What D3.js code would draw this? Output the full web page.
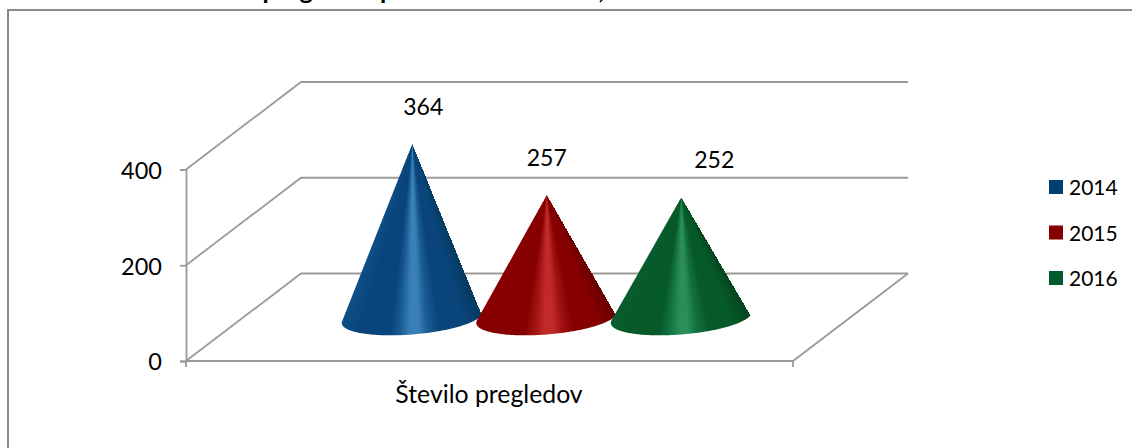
<!DOCTYPE html>
<html>
<head>
<meta charset="utf-8">
<style>
html,body{margin:0;padding:0;background:#fff;overflow:hidden}
text{font-family:Lato,"Open Sans",sans-serif;fill:#000}
</style>
<script src="https://cdn.jsdelivr.net/npm/d3@7"></script>
</head>
<body>
<svg id="c" width="1132" height="448"></svg>
<script>
const titleText = "Število pregledov po letih 2014-2016,";
const categoryLabel = "Število pregledov";
const years = ["2014", "2015", "2016"];
const values = [364, 257, 252];
const yTicks = [0, 200, 400];
const edgeColors = ["#0e5088", "#8a0000", "#0a5c2e"];
const darkColors = ["#053a60", "#680000", "#05451f"];
const midColors = ["#09457a", "#860000", "#065a29"];
const softColors = ["#1a5c94", "#a01212", "#147040"];
const glowColors = ["#3a80b8", "#c22a2a", "#2a8e56"];
const legendColors = ["#003f72", "#860000", "#005a2d"];

const svg = d3.select("#c");
const defs = svg.append("defs");
const grey = "#9a9a9a";

const floorLeft = 186, floorRight = 793;
const depthX = 115, depthY = -87.5;
const y = d3.scaleLinear().domain([0, 400]).range([361, 169.5]);

svg.append("path").attr("d", "M8 448V10H1132").attr("fill", "none").attr("stroke", "#8a8a8a").attr("stroke-width", 2);
svg.append("text").text(titleText).attr("x", 180).attr("y", -1.5).attr("font-size", 25.3).attr("font-weight", 700);

const wall = svg.append("g").attr("fill", "none").attr("stroke", grey).attr("stroke-width", 1.8);
yTicks.forEach(v => {
  wall.append("path").attr("d", d3.line()([
    [floorLeft, y(v)],
    [floorLeft + depthX, y(v) + depthY],
    [floorRight + depthX, y(v) + depthY]
  ]));
});
wall.append("path").attr("d", d3.line()([
  [floorLeft, y(0)], [floorRight, y(0)], [floorRight + depthX, y(0) + depthY]
]));

const axis = d3.axisLeft(y).tickValues(yTicks).tickSize(6).tickPadding(18).tickFormat(d3.format("d"));
const gy = svg.append("g").attr("transform", `translate(${floorLeft},0)`).call(axis);
gy.selectAll("path,line").attr("stroke", grey).attr("stroke-width", 1.8);
gy.selectAll("text").attr("font-size", 23.5).style("font-family", "Lato").attr("dy", "0.38em");

const xTicks = [floorLeft, floorRight];
svg.append("g").selectAll("line").data(xTicks).join("line")
  .attr("x1", d => d).attr("x2", d => d).attr("y1", y(0)).attr("y2", y(0) + 6)
  .attr("stroke", grey).attr("stroke-width", 1.8);

svg.append("text").text(categoryLabel).attr("x", 489).attr("y", 403)
  .attr("text-anchor", "middle").attr("font-size", 24.8);

// cones
const x = d3.scaleBand().domain(years).range([345, 748.5]);
const yMid = v => y(v) - 43;
const radius = 70.5;
const baseRise = -5.5, baseDepth = 17;
const labelShift = [[11, -38 + 9], [0, -29], [33, -29]];
const shadeStops = [0, 0.16, 0.36, 0.42, 0.49, 0.54, 0.6, 0.68, 0.85, 1];

years.forEach((yr, i) => {
  const cx = x(yr) + x.bandwidth() / 2;
  const apex = [cx, yMid(values[i])];
  const by = yMid(0) - 0.5;
  const tones = [edgeColors[i], midColors[i], midColors[i], softColors[i], glowColors[i], glowColors[i], softColors[i], midColors[i], midColors[i], darkColors[i]];

  const grad = defs.append("linearGradient").attr("id", "g" + yr);
  grad.selectAll("stop").data(shadeStops).join("stop")
    .attr("offset", d => d).attr("stop-color", (d, k) => tones[k]);

  const pts = d3.range(0, 360, 2).map(a => {
    const t = a * Math.PI / 180;
    return [cx + radius * Math.cos(t), by + baseRise * Math.cos(t) + baseDepth * Math.sin(t)];
  });
  pts.push(apex);
  defs.append("clipPath").attr("id", "c" + yr).append("path")
    .attr("d", "M" + d3.polygonHull(pts).join("L") + "Z");

  const g = svg.append("g").attr("clip-path", `url(#c${yr})`);
  const top = Math.floor(apex[1]), bottom = Math.ceil(by + 19);
  d3.range(top, bottom).forEach(r => {
    const h = Math.max(r + 0.5 - apex[1], 0.3) / (by - apex[1]);
    g.append("rect").attr("x", cx - radius * h).attr("width", 2 * radius * h)
      .attr("y", r).attr("height", 1.05)
      .attr("fill", `url(#g${yr})`).attr("shape-rendering", "crispEdges");
  });

  svg.append("text").text(values[i]).attr("x", cx + labelShift[i][0]).attr("y", apex[1] + labelShift[i][1])
    .attr("text-anchor", "middle").attr("font-size", 23);
});

// legend
const legendY = d3.scalePoint().domain(years).range([187, 278]);
const lg = svg.append("g");
years.forEach((yr, i) => {
  lg.append("rect").attr("x", 1049).attr("y", legendY(yr) - 7).attr("width", 14).attr("height", 14).attr("fill", legendColors[i]);
  lg.append("text").text(yr).attr("x", 1069).attr("y", legendY(yr) + 8).attr("font-size", 21);
});
</script>
</body>
</html>
